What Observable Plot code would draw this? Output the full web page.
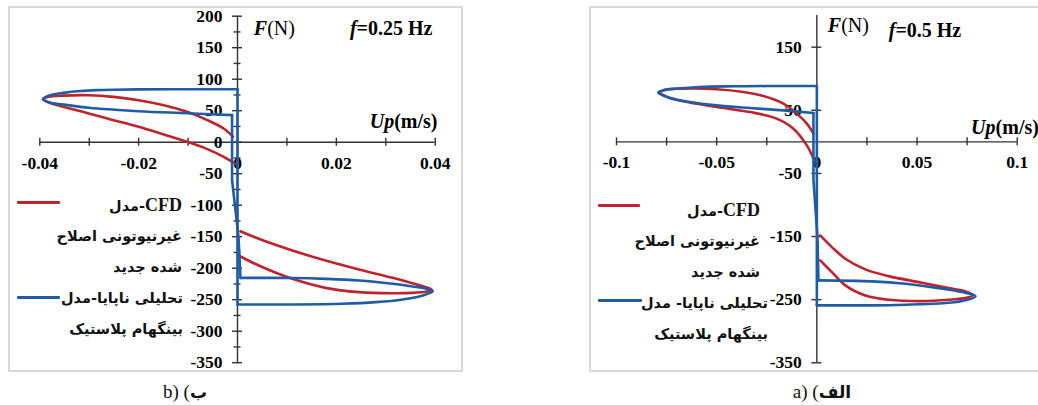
<!DOCTYPE html>
<html>
<head>
<meta charset="utf-8">
<script src="https://cdn.jsdelivr.net/npm/d3@7"></script>
<script src="https://cdn.jsdelivr.net/npm/@observablehq/plot@0.6"></script>
<style>
  html, body { margin: 0; padding: 0; background: #fff; }
  #fig { position: relative; width: 1038px; height: 405px; overflow: hidden; background: #fff; }
  .panel { position: absolute; }
  .panel svg { position: absolute; left: 0; top: 0; }
  .frame { position: absolute; left: 0; top: 0; right: 0; bottom: 0; border: 2px solid #d9d9d9; box-sizing: border-box; pointer-events: none; }
  .legend { position: absolute; direction: rtl; text-align: right; font-family: "DejaVu Sans", sans-serif; font-weight: bold; font-size: 14.5px; color: #111; }
  .legend div { height: 31px; line-height: 31px; white-space: nowrap; }
  .legend .lat { font-family: "Liberation Serif", "Times New Roman", serif; font-size: 18px; }
  .swatch { position: absolute; height: 3px; border-radius: 1px; }
  .caption { position: absolute; transform: translateX(-50%); font-family: "Liberation Serif", "Times New Roman", serif; font-size: 19px; line-height: 20px; white-space: nowrap; color: #111; }
  .caption b { font-family: "DejaVu Sans", sans-serif; font-size: 17px; }
</style>
</head>
<body>
<div id="fig"></div>
<script>
// ---------- data: force F (N) against piston velocity Up (m/s) ----------

// f = 0.25 Hz — CFD model (modified non-Newtonian), upper-left lobe
const cfd025Upper = [
  [-0.0005, -33.8], [-0.0028, -23.2], [-0.0061, -11], [-0.0102, 0.6], [-0.0149, 12.2],
  [-0.0200, 24.4], [-0.0251, 35], [-0.0301, 45.6], [-0.0352, 56.2], [-0.0381, 63],
  [-0.0393, 68], [-0.0382, 72], [-0.0352, 74], [-0.0301, 74.6], [-0.0251, 72],
  [-0.0200, 66.7], [-0.0149, 58.7], [-0.0102, 48.2], [-0.0061, 35], [-0.0028, 21.7], [-0.0009, 8.6]
];
// f = 0.25 Hz — CFD model, lower-right lobe
const cfd025Lower = [
  [0.0006, -181.4], [0.0043, -195.7], [0.0111, -216.9], [0.0178, -231.2], [0.0246, -238],
  [0.0314, -239.7], [0.0354, -239.2], [0.0383, -237], [0.0393, -234.5], [0.0383, -230.5],
  [0.0354, -223.8], [0.0314, -215.2], [0.0246, -202], [0.0178, -187.8], [0.0111, -171.9],
  [0.0043, -153.3], [0.0006, -141.3]
];
// f = 0.25 Hz — unsteady analytical Bingham-plastic model
const bing025Upper = [
  [0, 84], [-0.0100, 84], [-0.0200, 83.8], [-0.0251, 83.3], [-0.0285, 82.6], [-0.0318, 81.2],
  [-0.0352, 78.3], [-0.0379, 74.6], [-0.0394, 68.5], [-0.0381, 63], [-0.0352, 59.8],
  [-0.0301, 54.6], [-0.0200, 49.2], [-0.0102, 46], [-0.0011, 42.9]
];
const bing025Drop = [[-0.0011, 42.9], [-0.0011, -60], [0.0002, -150], [0.0006, -215.3]];
const bing025Lower = [
  [0.0006, -215.3], [0.0111, -215.6], [0.0178, -216.9], [0.0246, -219.5], [0.0314, -224.8],
  [0.0354, -229], [0.0384, -233], [0.0395, -236.5], [0.0375, -243.2], [0.0334, -249.6],
  [0.0280, -253.9], [0.0212, -256.5], [0.0111, -257.6], [0, -257.6]
];
const bing025Rise = [[0, -257.6], [0, 84]];

// f = 0.5 Hz — CFD model, upper-left lobe
const cfd05Upper = [
  [-0.0013, -29.3], [-0.0050, -5.5], [-0.0117, 20.9], [-0.0201, 36.8], [-0.0334, 47.2],
  [-0.0500, 55.2], [-0.0667, 64.2], [-0.0745, 71], [-0.0782, 78], [-0.0758, 82.5],
  [-0.0667, 84.3], [-0.0500, 83.3], [-0.0367, 78.9], [-0.0267, 72.6], [-0.0167, 60.5],
  [-0.0100, 44.7], [-0.0050, 28.8], [-0.0017, 13]
];
// f = 0.5 Hz — CFD model, lower-right lobe
const cfd05Lower = [
  [0.0017, -187.8], [0.0075, -206.3], [0.0142, -227.4], [0.0242, -243.3], [0.0358, -250.1],
  [0.0525, -252.3], [0.0658, -250.1], [0.0745, -247], [0.0780, -242.5], [0.0740, -236.5],
  [0.0658, -231.7], [0.0525, -223.2], [0.0358, -212.7], [0.0242, -202], [0.0142, -185.1],
  [0.0075, -166.7], [0.0017, -148.2]
];
// f = 0.5 Hz — unsteady analytical Bingham-plastic model
const bing05Upper = [
  [0, 88.4], [-0.0250, 88.4], [-0.0417, 88], [-0.0584, 87], [-0.0700, 84.4], [-0.0759, 82.2],
  [-0.0792, 78], [-0.0734, 69.4], [-0.0634, 63.1], [-0.0500, 57.8], [-0.0334, 53.6],
  [-0.0167, 49.9], [-0.0017, 45.7]
];
const bing05Drop = [[-0.0017, 45.7], [-0.0017, -60], [0.0003, -150], [0.0008, -219.5]];
const bing05Lower = [
  [0.0008, -219.5], [0.0275, -221], [0.0442, -224.7], [0.0608, -231.7], [0.0725, -238],
  [0.0792, -244.5], [0.0725, -252], [0.0608, -256], [0.0442, -258], [0.0275, -259], [0, -259]
];
const bing05Rise = [[0, -259], [0, 88.4]];

// axis ticks
const xTicks025 = [-0.04, -0.03, -0.02, -0.01, 0, 0.01, 0.02, 0.03, 0.04];
const xLabels025 = [-0.04, -0.02, 0, 0.02, 0.04];
const yMajor025 = [-350, -300, -250, -200, -150, -100, -50, 0, 50, 100, 150, 200];
const yMinor025 = [-325, -275, -225, -175, -125, -75, -25, 25, 75, 125, 175];

const xTicks05 = [-0.1, -0.075, -0.05, -0.025, 0, 0.025, 0.05, 0.075, 0.1];
const xLabels05 = [-0.1, -0.05, 0, 0.05, 0.1];
const yMajor05 = [-350, -250, -150, -50, 50, 150];
const yMinor05 = [];

// legend text (Persian)
const legendCfd = ["مدل", "غیرنیوتونی اصلاح", "شده جدید"];
const legendBingLeft = ["تحلیلی ناپایا-مدل", "بینگهام پلاستیک"];
const legendBingRight = ["تحلیلی ناپایا- مدل", "بینگهام پلاستیک"];

// ---------- drawing ----------
const SERIF = '"Liberation Serif", "Times New Roman", serif';
const RED = "#c0232c";
const BLUE = "#1f5ca8";
const AXIS = "#333333";
const fig = document.getElementById("fig");

const pts = (arr, seg) => arr.map(([x, F]) => ({x, F, seg}));

function drawPanel(cfg) {
  const smoothRed = [...pts(cfg.redA, "a"), ...pts(cfg.redB, "b")];
  const smoothBlue = [...pts(cfg.blueA, "a"), ...pts(cfg.blueB, "b")];
  const straightBlue = [...pts(cfg.blueDrop, "d"), ...pts(cfg.blueRise, "r")];
  const [x0, x1] = cfg.xDomain;
  const [yb, yt] = cfg.yDomain;
  const tickText = {fontFamily: SERIF, fontWeight: "bold", fontSize: 17.5, fill: "#000"};
  const ann = {fontFamily: SERIF, fontSize: 20, fill: "#000", lineAnchor: "middle"};

  const svg = Plot.plot({
    width: cfg.width,
    height: cfg.height,
    marginLeft: cfg.margin[0],
    marginRight: cfg.margin[1],
    marginTop: cfg.margin[2],
    marginBottom: cfg.margin[3],
    x: {domain: cfg.xDomain, axis: null},
    y: {domain: cfg.yDomain, axis: null},
    style: {background: "transparent", overflow: "visible", fontFamily: SERIF},
    marks: [
      // axes crossing at the origin
      Plot.ruleY([0], {x1: () => x0, x2: () => x1, stroke: AXIS, strokeWidth: 1.4}),
      Plot.ruleX([0], {y1: () => yb, y2: () => yt, stroke: AXIS, strokeWidth: 1.4}),
      Plot.ruleX(cfg.xTicks, {x: d => d, y1: () => 0, y2: () => 0, insetTop: -4, insetBottom: -4, stroke: AXIS, strokeWidth: 1.4}),
      Plot.ruleY(cfg.yMajor, {y: d => d, x1: () => 0, x2: () => 0, insetLeft: -5, insetRight: -5, stroke: AXIS, strokeWidth: 1.4}),
      Plot.ruleY(cfg.yMinor, {y: d => d, x1: () => 0, x2: () => 0, insetLeft: -3.5, insetRight: -3.5, stroke: AXIS, strokeWidth: 1.4}),
      // tick labels
      Plot.text(cfg.xLabels, {x: d => d, y: () => 0, dy: 21, text: d => String(d), ...tickText}),
      Plot.text(cfg.yMajor, {x: () => 0, y: d => d, dx: -15, textAnchor: "end", text: d => String(d), ...tickText}),
      // axis titles and frequency
      Plot.text(["F"], {x: () => cfg.fAt[0], y: () => cfg.fAt[1], textAnchor: "end", fontWeight: "bold", fontStyle: "italic", ...ann}),
      Plot.text(["(N)"], {x: () => cfg.fAt[0], y: () => cfg.fAt[1], textAnchor: "start", ...ann}),
      Plot.text(["Up"], {x: () => cfg.upAt[0], y: () => cfg.upAt[1], textAnchor: "end", fontWeight: "bold", fontStyle: "italic", ...ann}),
      Plot.text(["(m/s)"], {x: () => cfg.upAt[0], y: () => cfg.upAt[1], textAnchor: "start", fontWeight: "bold", ...ann}),
      Plot.text(["f"], {x: () => cfg.freqAt[0], y: () => cfg.freqAt[1], textAnchor: "end", fontWeight: "bold", fontStyle: "italic", ...ann}),
      Plot.text([cfg.freqText], {x: () => cfg.freqAt[0], y: () => cfg.freqAt[1], textAnchor: "start", fontWeight: "bold", ...ann}),
      // force–velocity loops
      Plot.line(smoothRed, {x: "x", y: "F", z: "seg", stroke: RED, strokeWidth: 2.6, curve: "catmull-rom"}),
      Plot.line(straightBlue, {x: "x", y: "F", z: "seg", stroke: BLUE, strokeWidth: 2.6, curve: "linear"}),
      Plot.line(smoothBlue, {x: "x", y: "F", z: "seg", stroke: BLUE, strokeWidth: 2.6, curve: "catmull-rom"})
    ]
  });

  const panel = document.createElement("div");
  panel.className = "panel";
  Object.assign(panel.style, {left: cfg.left + "px", top: cfg.top + "px", width: cfg.width + "px", height: cfg.height + "px"});
  panel.appendChild(svg);
  const frame = document.createElement("div");
  frame.className = "frame";
  panel.appendChild(frame);
  fig.appendChild(panel);

  // legend: swatches and right-to-left labels
  const legend = document.createElement("div");
  legend.className = "legend";
  Object.assign(legend.style, {right: (1038 - cfg.legendRight) + "px", top: cfg.legendTop + "px"});
  const rows = [
    '<span class="lat">CFD</span>-' + legendCfd[0],
    legendCfd[1],
    legendCfd[2],
    cfg.bingText[0],
    cfg.bingText[1]
  ];
  legend.innerHTML = rows.map((r, i) => `<div style="margin-right:${i > 2 ? -cfg.shift : 0}px">${r}</div>`).join("");
  fig.appendChild(legend);
  for (const [color, sw] of [[RED, cfg.swatchRed], [BLUE, cfg.swatchBlue]]) {
    const s = document.createElement("div");
    s.className = "swatch";
    Object.assign(s.style, {left: sw[0] + "px", width: (sw[1] - sw[0]) + "px", top: (sw[2] - 1.5) + "px", background: color});
    fig.appendChild(s);
  }

  const cap = document.createElement("div");
  cap.className = "caption";
  Object.assign(cap.style, {left: cfg.captionX + "px", top: "382px"});
  cap.innerHTML = cfg.caption;
  fig.appendChild(cap);
}

// (b) f = 0.25 Hz
drawPanel({
  left: 8, top: 6, width: 455, height: 366,
  margin: [31.3, 28.3, 9.7, 9.8],
  xDomain: [-0.04, 0.04], yDomain: [-350, 200],
  xTicks: xTicks025, xLabels: xLabels025, yMajor: yMajor025, yMinor: yMinor025,
  redA: cfd025Upper, redB: cfd025Lower,
  blueA: bing025Upper, blueB: bing025Lower, blueDrop: bing025Drop, blueRise: bing025Rise,
  fAt: [0.006, 180], upAt: [0.0317, 32], freqAt: [0.0241, 180.5], freqText: "=0.25 Hz",
  legendRight: 182, legendTop: 190, shift: 1, bingText: legendBingLeft,
  swatchRed: [17, 60, 202], swatchBlue: [17, 60, 297],
  captionX: 185, caption: "b) (<b>ب</b>"
});

// (a) f = 0.5 Hz
drawPanel({
  left: 589, top: 6, width: 451, height: 366,
  margin: [27, 23.3, 9.1, 9.7],
  xDomain: [-0.1, 0.1], yDomain: [-350, 200],
  xTicks: xTicks05, xLabels: xLabels05, yMajor: yMajor05, yMinor: yMinor05,
  redA: cfd05Upper, redB: cfd05Lower,
  blueA: bing05Upper, blueB: bing05Lower, blueDrop: bing05Drop, blueRise: bing05Rise,
  fAt: [0.01215, 184.6], upAt: [0.0892, 22], freqAt: [0.0392, 176.7], freqText: "=0.5 Hz",
  legendRight: 760, legendTop: 195, shift: 8, bingText: legendBingRight,
  swatchRed: [598, 640, 205.7], swatchBlue: [598, 642, 300],
  captionX: 822, caption: "a) (<b>الف</b>"
});
</script>
</body>
</html>
